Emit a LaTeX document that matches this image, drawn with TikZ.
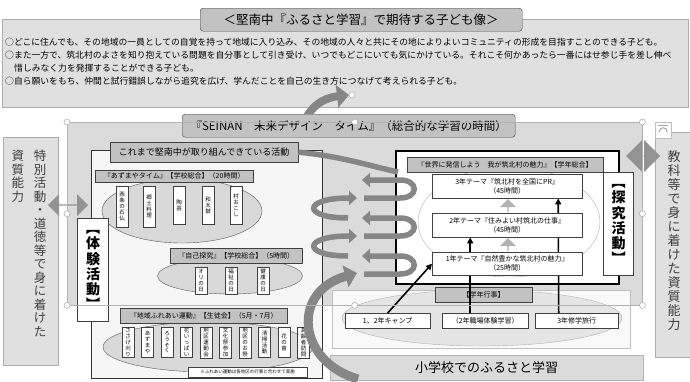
\documentclass[tikz,border=0pt]{standalone}
\usepackage{fontspec}
\setmainfont{Noto Sans CJK JP}
\usetikzlibrary{arrows.meta,shapes.geometric,shapes.arrows}
\pgfdeclarelayer{front}
\pgfsetlayers{main,front}

\newcommand\jfs[1]{\fontsize{#1}{\fpeval{1.25*#1}}\selectfont}
\newcommand\tate[1]{\edef\tatetmp{#1}\vbox{\baselineskip=1.08em\lineskiplimit=-1em\expandafter\tateloop\tatetmp\relax}}
\def\tateloop#1{\ifx\relax#1\else\hbox to 1em{\hss#1\hss}\expandafter\tateloop\fi}

\tikzset{
  panel/.style={draw=gray!65, fill=gray!24, line width=0.8pt, inner sep=0pt, anchor=north west},
  capbox/.style={draw=black!75, fill=gray!48, inner sep=0pt, anchor=north west},
  whitebox/.style={draw=black!75, fill=white, inner sep=0pt, anchor=north west},
  itembox/.style={draw=black!75, fill=white, inner sep=1pt, anchor=north, minimum width=12pt, font=\jfs{5.5}},
  oval/.style={ellipse, draw=black!65, fill=gray!30, inner sep=0pt},
  goalline/.style={anchor=west, inner sep=0pt, font=\jfs{8.8}},
  coil/.style={draw=gray!95, line width=5.5pt},
  coilhead/.style={coil, -{Triangle[length=8pt,width=14pt]}},
  bigarrow/.style={draw=gray!95, line width=9pt, -{Triangle[length=12pt,width=22pt]}},
  link/.style={draw=black, line width=1.6pt, -{Triangle[length=6pt,width=6pt]}},
  handle/.style={circle, draw=gray!60, fill=white, line width=0.6pt, inner sep=0pt, minimum size=6pt},
  sidetext/.style={anchor=north, text=black!75, font=\jfs{12.5}, inner sep=0pt},
}

\begin{document}
\begin{tikzpicture}[x=1pt, y=-1pt]
  \useasboundingbox (0,0) rectangle (690,381);

  \node[panel, minimum width=686pt, minimum height=88pt] (goal) at (2,19) {};
  \node[capbox, rounded corners=3pt, minimum width=322pt, minimum height=23pt, font=\jfs{12.5}] (goaltitle) at (200,8) {＜堅南中『ふるさと学習』で期待する子ども像＞};
  \node[goalline] (goal1) at (5,42) {○どこに住んでも、その地域の一員としての自覚を持って地域に入り込み、その地域の人々と共にその地によりよいコミュニティの形成を目指すことのできる子ども。};
  \node[goalline] (goal2) at (5,55) {○また一方で、筑北村のよさを知り抱えている問題を自分事として引き受け、いつでもどこにいても気にかけている。それこそ何かあったら一番にはせ参じ手を差し伸べ};
  \node[goalline] (goal3) at (14,68) {惜しみなく力を発揮することができる子ども。};
  \node[goalline] (goal4) at (5,81) {○自ら願いをもち、仲間と試行錯誤しながら追究を広げ、学んだことを自己の生き方につなげて考えられる子ども。};

  \node[anchor=north west, fill=gray!28, inner sep=0pt, minimum width=575pt, minimum height=183pt] (frame) at (67,122) {};

  \coordinate (up0) at (302,128);
  \coordinate (up1) at (349,95);
  \draw[bigarrow, line width=8pt] (up0) .. controls (308,108) and (322,98) .. (up1);
  \node[capbox, rounded corners=3pt, minimum width=333pt, minimum height=23pt, font=\jfs{11.5}] (time) at (182,114) {『SEINAN　未来デザイン　タイム』（総合的な学習の時間）};

  \node[panel, minimum width=55pt, minimum height=228pt] (skillL) at (3,137) {};
  \node[sidetext] (skillLa) at (40,150) {\tate{特別活動・道徳等で身に着けた}};
  \node[sidetext] (skillLb) at (18,150) {\tate{資質能力}};
  \node[panel, minimum width=40pt, minimum height=225pt] (skillR) at (655,132) {};
  \node[sidetext, font=\jfs{13}] (skillRa) at (674,150) {\tate{教科等で身に着けた資質能力}};
  \node[whitebox, draw=gray!50, minimum size=16pt] (layout) at (655,122) {};
  \draw[gray!70, line width=1pt] ([xshift=-4pt,yshift=-2pt]layout.center) .. controls ([xshift=-4pt,yshift=4pt]layout.center) and ([xshift=4pt,yshift=4pt]layout.center) .. ([xshift=4pt,yshift=-2pt]layout.center);
  \draw[gray!70, line width=0.8pt] ([xshift=-5pt,yshift=5pt]layout.center) -- ([xshift=5pt,yshift=5pt]layout.center);

  \node[double arrow, fill=gray!85, minimum width=22pt, minimum height=40pt, double arrow head extend=4pt, inner sep=0pt] (linkL) at (68,205) {};
  \node[double arrow, fill=gray!85, minimum width=32pt, minimum height=34pt, double arrow head extend=7pt, inner sep=0pt] (linkR) at (643,156) {};

  \node[anchor=north west, draw=black!80, line width=1pt, fill=gray!7, inner sep=0pt, minimum width=231pt, minimum height=228pt] (past) at (91,150) {};
  \node[capbox, minimum width=188pt, minimum height=20pt, font=\jfs{9}] (pasttitle) at (110,142) {これまで堅南中が取り組んできている活動};

  \node[oval, minimum width=160pt, minimum height=64pt] (ov1) at (182,211) {};
  \node[capbox, minimum width=158pt, minimum height=12pt, font=\jfs{7}] (sub1) at (95,170) {『あずまやタイム』【学校総合】（20時間）};
  \foreach \x/\h/\lbl [count=\i] in {122/41/西条の石仏, 149/41/郷土料理, 179/38/陶芸, 208/38/和太鼓, 236/38/村おこし}
    \node[itembox, minimum height=\h pt] (a\i) at (\x,186) {\tate{\lbl}};

  \node[oval, minimum width=145pt, minimum height=36pt] (ov2) at (230,276) {};
  \node[capbox, minimum width=132pt, minimum height=15pt, font=\jfs{7}] (sub2) at (170,248) {『自己探究』【学校総合】（5時間）};
  \foreach \x/\lbl [count=\i] in {201/オリの日, 231/福祉の日, 263/健康の日}
    \node[itembox, minimum height=27pt] (b\i) at (\x,267) {\tate{\lbl}};

  \node[oval, minimum width=210pt, minimum height=50pt] (ov3) at (208,347) {};
  \node[capbox, minimum width=167pt, minimum height=15pt, font=\jfs{7}] (sub3) at (120,308) {『地域ふれあい運動』【生徒会】（5月・7月）};
  \foreach \lbl [count=\i] in {ささげ刈り, あずまや, ろうそく, 花いっぱい, 地区運動会, 文化祭参加, 地区のお祭, 清掃活動, 花の苗, 高齢者訪問}
    \node[itembox, minimum height=30pt] (c\i) at (108.5+19.5*\i,327) {\tate{\lbl}};
  \node[whitebox, minimum width=119pt, minimum height=10pt, font=\jfs{4.5}] (note) at (188,367) {※ふれあい運動は各地区の行事と合わせて実施};

  \node[whitebox, draw=black!75, line width=1pt, minimum width=31pt, minimum height=103pt, font=\jfs{14}\bfseries] (taiken) at (77,218) {\tate{︻体験活動︼}};

  \node[anchor=north west, draw=black, line width=1.5pt, fill=white, inner sep=0pt, minimum width=223pt, minimum height=133pt] (explore) at (395,150) {};
  \node[oval, fill=white, draw=gray!60, minimum width=182pt, minimum height=110pt] (ov4) at (509,222) {};
  \node[capbox, minimum width=196pt, minimum height=15pt, font=\jfs{7}] (exptitle) at (407,157) {『世界に発信しよう　我が筑北村の魅力』【学年総合】};

  \begin{pgfonlayer}{front}
    \node[whitebox, minimum width=150pt, minimum height=24pt, align=center, font=\jfs{7}] (y3) at (432,174) {3年テーマ『筑北村を全国にPR』\\（45時間）};
    \node[whitebox, minimum width=150pt, minimum height=24pt, align=center, font=\jfs{7}] (y2) at (432,213) {2年テーマ『住みよい村筑北の仕事』\\（45時間）};
    \node[whitebox, minimum width=150pt, minimum height=23pt, align=center, font=\jfs{7}] (y1) at (432,252) {1年テーマ『自然豊かな筑北村の魅力』\\（25時間）};
    \node[single arrow, fill=gray!60, shape border rotate=90, minimum width=16pt, minimum height=13pt, single arrow head extend=2pt, inner sep=0pt] (up32) at (508,206) {};
    \node[single arrow, fill=gray!60, shape border rotate=90, minimum width=16pt, minimum height=13pt, single arrow head extend=2pt, inner sep=0pt] (up21) at (508,245) {};
  \end{pgfonlayer}

  \node[whitebox, draw=black!75, line width=1pt, minimum width=30pt, minimum height=103pt, font=\jfs{14}\bfseries] (tankyu) at (603,172) {\tate{︻探究活動︼}};

  \node[anchor=north west, draw=gray!50, fill=gray!5, inner sep=0pt, minimum width=298pt, minimum height=58pt] (events) at (332,290) {};
  \node[oval, fill=gray!20, draw=gray!60, minimum width=280pt, minimum height=56pt] (ov5) at (482,318) {};
  \node[capbox, minimum width=97pt, minimum height=15pt, font=\jfs{7}] (evtitle) at (435,287) {【学年行事】};
  \node[whitebox, minimum width=85pt, minimum height=15pt, font=\jfs{7}] (camp) at (345,313) {1、2年キャンプ};
  \node[whitebox, minimum width=86pt, minimum height=15pt, font=\jfs{7}] (work) at (442,313) {（2年職場体験学習）};
  \node[whitebox, minimum width=83pt, minimum height=15pt, font=\jfs{7}] (trip) at (535,313) {3年修学旅行};
  \draw[link] (camp.north) -- (y1.west);
  \draw[link] ([xshift=-15pt]work.north) -- ([xshift=-37pt]y2.south);
  \draw[link] ([xshift=-18pt]trip.north) -- ([xshift=51pt]y3.south);

  \node[anchor=north west, draw=gray!60, fill=gray!28, inner sep=0pt, minimum width=313pt, minimum height=25pt, font=\jfs{13}] (school) at (330,355) {小学校でのふるさと学習};

  \coordinate (sweep) at (398,172);
  \draw[coil] (pasttitle.east) .. controls (340,156) and (370,166) .. (sweep);
  \foreach \y in {198,236}
    \draw[coilhead] (348,\y+20) .. controls (302,\y+20) and (302,\y) .. (357,\y);
  \foreach \y in {180,218,256}
    \draw[coilhead] (364,\y+18) -- (400,\y+18) .. controls (419,\y+18) and (419,\y) .. (400,\y) -- (362,\y);
  \coordinate (s0) at (358,379);
  \draw[bigarrow] (s0) .. controls (298,362) and (290,292) .. (357,273);

  \draw[gray!60, line width=0.8pt] (frame.north west) rectangle (frame.south east);
  \foreach \p [count=\i] in {north west, north, north east, west, east, south west, south, south east}
    \node[handle] (h\i) at (frame.\p) {};
  \node[handle] (rot) at (352,95) {};
\end{tikzpicture}
\end{document}
